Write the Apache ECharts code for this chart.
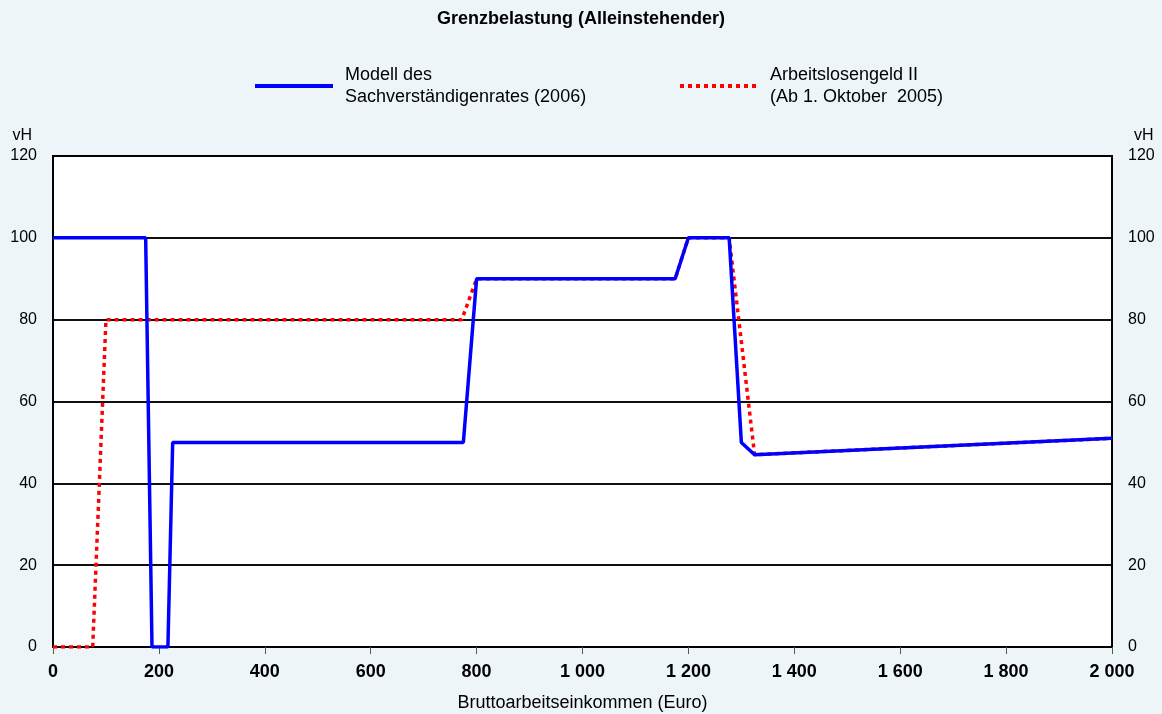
<!DOCTYPE html>
<html>
<head>
<meta charset="utf-8">
<title>Grenzbelastung</title>
<script src="https://cdn.jsdelivr.net/npm/echarts@6/dist/echarts.min.js"></script>
<style>
    html, body {margin: 0; padding: 0; background: #edf5f8;}
    #main {width: 1162px; height: 714px;}
</style>
</head>
<body>
<div id="main"></div>
<script>
// Modell des Sachverständigenrates (2006)
var modellX = [0, 175, 187, 217, 226, 775, 800, 1175, 1200, 1277, 1300, 1325, 2000];
var modellY = [100, 100, 0, 0, 50, 50, 90, 90, 100, 100, 50, 47, 51];
// Arbeitslosengeld II
var alg2X = [0, 75, 100, 772, 800, 1175, 1200, 1277, 1325, 2000];
var alg2Y = [0, 0, 80, 80, 90, 90, 100, 100, 47, 51];

var nameModell = 'Modell des\nSachverständigenrates (2006)';
var nameAlg2 = 'Arbeitslosengeld II\n(Ab 1. Oktober  2005)';

function toPairs(xs, ys) {
    var out = [];
    for (var i = 0; i < xs.length; i++) {
        out.push([xs[i], ys[i]]);
    }
    return out;
}

// 1 000 style labels
function fmtThousand(v) {
    return String(v).replace(/\B(?=(\d{3})+(?!\d))/g, ' ');
}

var font = 'Liberation Sans, Arial, sans-serif';
var yAxisBase = {
    type: 'value',
    min: 0,
    max: 120,
    interval: 20,
    name: 'vH',
    nameLocation: 'end',
    nameGap: 12,
    axisLine: {show: false},
    axisTick: {show: false},
    splitLine: {show: true, lineStyle: {color: '#000', width: 1.5}},
    axisLabel: {color: '#000', fontSize: 16, fontFamily: font, margin: 16, padding: [4, 0, 0, 0]}
};
var legendBase = {
    top: 64,
    padding: 0,
    itemWidth: 78,
    itemHeight: 12,
    itemGap: 12,
    itemStyle: {opacity: 0},
    lineStyle: {width: 4},
    textStyle: {fontSize: 18, lineHeight: 22, color: '#000', fontFamily: font, padding: [0, 0, 0, 7]}
};

var myChart = echarts.init(document.getElementById('main'));
var option = {
    backgroundColor: '#edf5f8',
    animation: false,
    title: {
        text: 'Grenzbelastung (Alleinstehender)',
        left: 'center',
        top: 5,
        textStyle: {fontSize: 18, fontWeight: 'bold', color: '#000', fontFamily: font}
    },
    legend: [
        echarts.util.merge({data: [nameModell], left: 253}, legendBase),
        echarts.util.merge({data: [nameAlg2], left: 678}, legendBase)
    ],
    grid: {
        left: 53,
        right: 50,
        top: 156,
        bottom: 67,
        outerBoundsMode: 'none',
        show: true,
        backgroundColor: '#fff',
        borderColor: '#000',
        borderWidth: 2
    },
    xAxis: {
        type: 'value',
        min: 0,
        max: 2000,
        interval: 200,
        name: 'Bruttoarbeitseinkommen (Euro)',
        nameLocation: 'middle',
        nameGap: 47,
        nameTextStyle: {fontSize: 18, color: '#000', fontFamily: font},
        axisLine: {show: true, lineStyle: {color: '#000', width: 2}},
        axisTick: {show: true, inside: false, length: 7, lineStyle: {color: '#555', width: 1}},
        splitLine: {show: false},
        axisLabel: {color: '#000', fontWeight: 'bold', fontSize: 18, fontFamily: font, margin: 16,
            formatter: fmtThousand}
    },
    yAxis: [
        echarts.util.merge({position: 'left', nameTextStyle: {align: 'right', padding: [0, 21, 0, 0],
            fontSize: 16, color: '#000', fontFamily: font}}, yAxisBase),
        echarts.util.merge({position: 'right', nameTextStyle: {align: 'left', padding: [0, 0, 0, 22],
            fontSize: 16, color: '#000', fontFamily: font}}, yAxisBase)
    ],
    series: [{
        name: nameAlg2,
        type: 'line',
        data: toPairs(alg2X, alg2Y),
        showSymbol: false,
        symbol: 'none',
        z: 2,
        lineStyle: {color: '#ff0000', width: 3.5, type: [4, 4]},
        itemStyle: {color: '#ff0000'}
    }, {
        name: nameModell,
        type: 'line',
        data: toPairs(modellX, modellY),
        showSymbol: false,
        symbol: 'none',
        z: 3,
        lineStyle: {color: '#0000ff', width: 3.5},
        itemStyle: {color: '#0000ff'}
    }]
};
myChart.setOption(option);
</script>
</body>
</html>
